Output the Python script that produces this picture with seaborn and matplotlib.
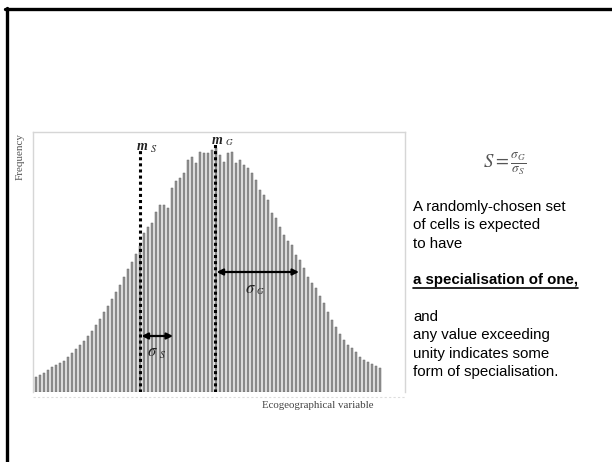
import numpy as np
import pandas as pd
import matplotlib.pyplot as plt
import seaborn as sns
from matplotlib.lines import Line2D

# Frequency of each ecogeographical-variable class
freq_left = [15, 17, 19, 22, 25, 27, 29, 31, 35, 39, 43, 47, 51, 56, 61, 67, 73, 80,
             86, 93, 100, 107, 115, 123, 130, 138, 146]
freq_right = [159, 165, 169, 180, 187, 187, 184, 204, 211, 214,
              219, 232, 235, 229, 240, 239, 239, 242, 244, 237,
              230, 239, 240, 229, 232, 227, 224, 219, 212, 202,
              197, 192, 179, 174, 165, 157, 151, 147, 137, 132,
              124, 115, 109, 104, 96, 89, 80, 72, 65, 58,
              52, 47, 44, 40, 35, 32, 30, 28, 26, 24]
frequency = freq_left + freq_right
classes = list(range(len(frequency)))

# means and spreads (in class units)
m_s, m_g = 26.0, 44.75
sd_s, sd_g = 8.25, 21.0

text_lines = ["A randomly-chosen set", "of cells is expected", "to have"]
key_line = "a specialisation of one,"
end_lines = ["and", "any value exceeding", "unity indicates some", "form of specialisation."]

W, H = 612, 462
def fx(x):
    return x / W
def fy(y):
    return 1 - y / H

sns.set_style("white")
plt.rcParams['mathtext.fontset'] = 'stix'
fig = plt.figure(figsize=(6.12, 4.62), dpi=100)

# slide border (top and left)
fig.add_artist(Line2D([fx(5), fx(612)], [fy(8.5), fy(8.5)], color='black', lw=2.4))
fig.add_artist(Line2D([fx(6.5), fx(6.5)], [fy(8), fy(462)], color='black', lw=2.4))

# chart area: 33..405 px wide, baseline at 392, top at 132
ax = fig.add_axes([fx(33), fy(392), fx(405) - fx(33), fy(132) - fy(392)])
df = pd.DataFrame({'cls': classes, 'freq': frequency})
sns.barplot(data=df, x='cls', y='freq', color='#939393', saturation=1,
            width=0.7, edgecolor='#6a6a6a', linewidth=0.35, ax=ax)
ax.set_xlim(-0.75, 92.25)
ax.set_ylim(0, 260)
ax.set_xticks([])
ax.set_yticks([])
ax.set_xlabel('')
ax.set_ylabel('')
for side in ['left', 'top', 'right']:
    ax.spines[side].set_color('#d6d6d6')
    ax.spines[side].set_linewidth(1.0)
ax.spines['bottom'].set_visible(False)
ax.plot([-0.75, 92.25], [-5, -5], ls=(0, (2, 2)), color='#dddddd', lw=0.8, clip_on=False)

# mean lines
ax.plot([m_s, m_s], [0, 244], ls=(0, (1, 1)), color='black', lw=2.2)
ax.plot([m_g, m_g], [0, 249], ls=(0, (1, 1)), color='black', lw=2.2)
serif = 'Liberation Serif'
ax.text(m_s - 0.9, 245, 'm', family=serif, style='italic', fontweight='bold',
        fontsize=10, ha='left', va='center', color='#222222')
ax.text(m_s + 2.6, 243, r'$S$', fontsize=7.5, ha='left', va='center', color='#222222')
ax.text(m_g - 0.9, 251, 'm', family=serif, style='italic', fontweight='bold',
        fontsize=10, ha='left', va='center', color='#222222')
ax.text(m_g + 2.4, 250, r'$G$', fontsize=6.5, ha='left', va='center', color='#222222')

# spread arrows
ax.annotate('', xy=(m_g + sd_g, 120), xytext=(m_g + 0.4, 120),
            arrowprops=dict(arrowstyle='<|-|>', color='black', lw=1.6,
                            mutation_scale=9, shrinkA=0, shrinkB=0))
ax.text(m_g + 8.8, 104, r'$\sigma$', fontsize=12, ha='center', va='center', color='#222222')
ax.text(m_g + 11.4, 101, r'$G$', fontsize=6.5, ha='center', va='center', color='#222222')
ax.annotate('', xy=(m_s + sd_s, 56), xytext=(m_s + 0.4, 56),
            arrowprops=dict(arrowstyle='<|-|>', color='black', lw=1.6,
                            mutation_scale=9, shrinkA=0, shrinkB=0))
ax.text(m_s + 3.0, 41, r'$\sigma$', fontsize=12, ha='center', va='center', color='#222222')
ax.text(m_s + 5.6, 38, r'$S$', fontsize=7, ha='center', va='center', color='#222222')

# axis captions of the embedded figure
fig.text(fx(20), fy(156), 'Frequency', rotation=90, ha='center', va='center',
         family=serif, fontsize=8, color='#555555')
fig.text(fx(262), fy(406), 'Ecogeographical variable', ha='left', va='center',
         family=serif, fontsize=7.8, color='#444444')

# formula
fig.text(fx(505), fy(164), r'$S=\frac{\sigma_G}{\sigma_S}$', ha='center', va='center',
         fontsize=13.5, color='#555555')

# explanatory text
sans = 'Liberation Sans'
y0, step = 207, 18.4
for i, line in enumerate(text_lines):
    fig.text(fx(413), fy(y0 + i * step), line, ha='left', va='center',
             family=sans, fontsize=10.8, color='black')
t = fig.text(fx(413), fy(280), key_line, ha='left', va='center',
             family=sans, fontsize=10.8, fontweight='bold', color='black')
for i, line in enumerate(end_lines):
    fig.text(fx(413), fy(317 + i * step), line, ha='left', va='center',
             family=sans, fontsize=10.8, color='black')

# underline the key sentence
fig.canvas.draw()
bb = t.get_window_extent(renderer=fig.canvas.get_renderer())
bb = bb.transformed(fig.transFigure.inverted())
fig.add_artist(Line2D([bb.x0, bb.x1], [fy(288), fy(288)], color='black', lw=1.2))

fig.savefig('out.png', dpi=100)
